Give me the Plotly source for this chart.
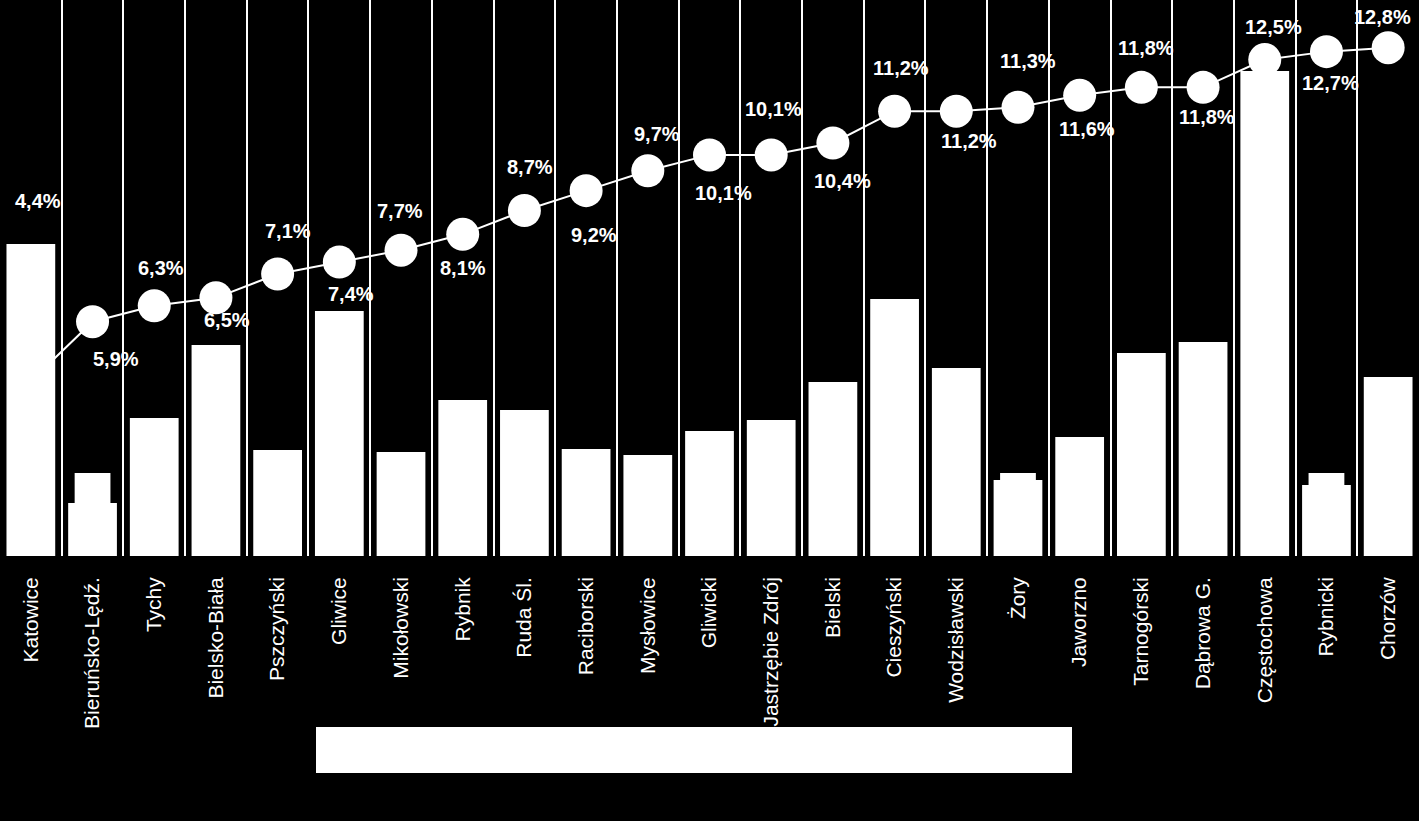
import plotly.graph_objects as go

categories = ["Katowice", "Bieruńsko-Lędź.", "Tychy", "Bielsko-Biała", "Pszczyński",
              "Gliwice", "Mikołowski", "Rybnik", "Ruda Śl.", "Raciborski", "Mysłowice",
              "Gliwicki", "Jastrzębie Zdrój", "Bielski", "Cieszyński", "Wodzisławski",
              "Żory", "Jaworzno", "Tarnogórski", "Dąbrowa G.", "Częstochowa",
              "Rybnicki", "Chorzów"]

bar_values = [15.6, 2.65, 6.9, 10.55, 5.3, 12.25, 5.2, 7.8, 7.3, 5.35, 5.05,
              6.25, 6.8, 8.7, 12.85, 9.4, 3.8, 5.95, 10.15, 10.7, 24.25, 3.55, 8.95]

bar2_values = [None, 4.15, None, None, None, None, None, None, None, None, None,
               None, None, None, None, None, 4.15, None, None, None, None, 4.15, None]

line_values = [4.4, 5.9, 6.3, 6.5, 7.1, 7.4, 7.7, 8.1, 8.7, 9.2, 9.7, 10.1, 10.1,
               10.4, 11.2, 11.2, 11.3, 11.6, 11.8, 11.8, 12.5, 12.7, 12.8]

# label placement (pixels; positive dy = downward)
label_dx = [7, 23, 7, 11, 10, 12, -1, 0, 6, 8, 9, 14, 2, 10, 6, 13, 10, 7, 5, 4, 9, 4, -6]
label_dy = [-180, 37, -38, 22, -43, 32, -39, 34, -43, 44, -37, 38, -46, 38, -43, 30,
            -46, 34, -39, 30, -33, 31, -31]

FONT = "Liberation Sans, Arial, sans-serif"

fig = go.Figure()
fig.add_trace(go.Bar(x=categories, y=bar_values, width=0.79,
                     marker=dict(color="white", line=dict(width=0)), yaxis="y"))
fig.add_trace(go.Bar(x=categories, y=bar2_values, width=0.58,
                     marker=dict(color="white", line=dict(width=0)), yaxis="y"))
fig.add_trace(go.Scatter(x=categories, y=line_values, mode="lines+markers",
                         line=dict(color="white", width=2),
                         marker=dict(color="white", size=33),
                         yaxis="y2"))

for c, v, dx, dy in zip(categories, line_values, label_dx, label_dy):
    fig.add_annotation(x=c, y=v, xref="x", yref="y2",
                       text=f"{v:.1f}".replace(".", ",") + "%",
                       showarrow=False, xshift=dx, yshift=-dy,
                       font=dict(family=FONT, size=20, color="white", weight="bold"))

# legend box
fig.add_shape(type="rect", xref="paper", yref="paper",
              x0=316 / 1419, x1=1072 / 1419,
              y0=(556 - 773) / 556, y1=(556 - 727) / 556,
              fillcolor="white", line=dict(width=0), layer="above")

fig.update_layout(
    width=1419, height=821,
    margin=dict(l=0, r=0, t=0, b=265),
    paper_bgcolor="black", plot_bgcolor="black",
    barmode="overlay",
    showlegend=False,
    xaxis=dict(type="category", range=[-0.5, 22.5], tickson="boundaries",
               showgrid=True, gridcolor="white", gridwidth=2,
               tickangle=-90, ticks="", ticklabelstandoff=16,
               tickfont=dict(family=FONT, size=21, color="white"),
               showline=False, zeroline=False),
    yaxis=dict(range=[0, 27.8], visible=False, showgrid=False),
    yaxis2=dict(range=[0, 14.0], overlaying="y", visible=False, showgrid=False),
    font=dict(family=FONT, color="white"),
)

fig.write_html("out.html", config={"displayModeBar": False},
               post_script="document.body.style.margin='0';document.body.style.background='black';")
